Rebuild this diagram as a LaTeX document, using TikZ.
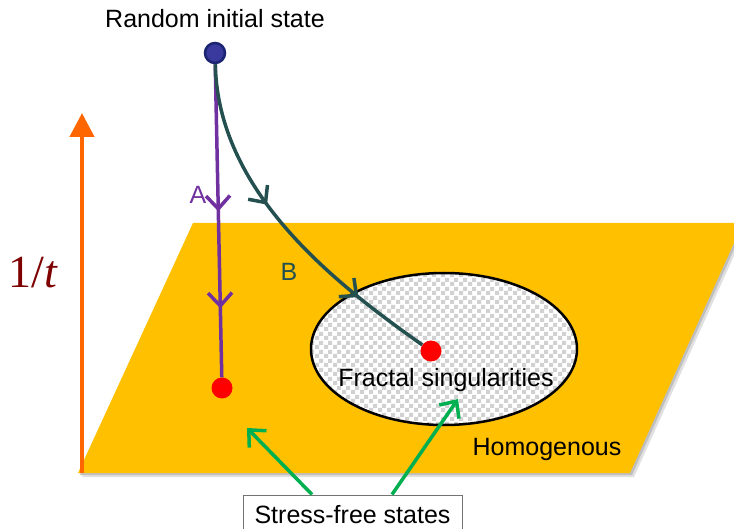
\documentclass[tikz,border=0pt]{standalone}
\usepackage{fontspec}
\setmainfont{Liberation Sans}
\newfontfamily\timesfont{Liberation Serif}
\usetikzlibrary{arrows.meta,decorations.markings,patterns}
\pgfdeclarepatternformonly{mychecker}{\pgfpointorigin}{\pgfqpoint{9pt}{9pt}}{\pgfqpoint{9pt}{9pt}}{%
  \pgfpathrectangle{\pgfpointorigin}{\pgfqpoint{4.5pt}{4.5pt}}%
  \pgfpathrectangle{\pgfqpoint{4.5pt}{4.5pt}}{\pgfqpoint{4.5pt}{4.5pt}}%
  \pgfusepath{fill}}
\definecolor{plane}{HTML}{FFC000}
\definecolor{axisorange}{HTML}{FF6600}
\definecolor{pathA}{HTML}{7030A0}
\definecolor{pathB}{HTML}{24504F}
\definecolor{arrowgreen}{HTML}{00B050}
\definecolor{darkred}{HTML}{7F0000}
\definecolor{startfill}{HTML}{3A3A9E}
\definecolor{startdraw}{HTML}{1A2470}
\tikzset{
  barbtip/.tip={Straight Barb[length=13pt,width=24pt,line width=3.5pt]},
  lbl/.style={font=\fontsize{25}{30}\selectfont, inner sep=0pt, anchor=base},
  dot/.style={circle, fill=red, inner sep=0pt, minimum size=21pt},
  flowA/.style={pathA, line width=3.5pt, postaction={decorate}},
  flowB/.style={pathB, line width=3.5pt, postaction={decorate}},
  greenarrow/.style={arrowgreen, line width=3.5pt, -barbtip},
}
\begin{document}
\begin{tikzpicture}[x=1pt,y=-1pt]
\useasboundingbox (0,0) rectangle (734,529);
% plane with soft shadow
\fill[black!12] (197,227) -- (747,227) -- (634,477) -- (82,477) -- cycle;
\fill[black!25] (195,225) -- (745,225) -- (632,475) -- (80,475) -- cycle;
\fill[plane] (193,223) -- (743,223) -- (630,473) -- (78,473) -- cycle;
% ellipse
\fill[white] (444,349) ellipse [x radius=133, y radius=76];
\fill[pattern=mychecker, pattern color=black!18] (444,349) ellipse [x radius=132, y radius=75];
\draw[black, line width=2.5pt] (444,349) ellipse [x radius=133, y radius=76];
% axis
\coordinate (axbot) at (82,473);
\coordinate (axtop) at (82,113);
\draw[axisorange, line width=4.5pt, -{Triangle[length=24pt,width=24pt]}] (axbot) -- (axtop);
\node[text=darkred, inner sep=0pt, anchor=base] (inv) at (33,288) {\timesfont\fontsize{46}{52}\selectfont 1/\textit{t}};
% labels
\node[lbl] (title) at (215,28) {Random initial state};
\node[lbl, text=pathA] (labA) at (198,204) {A};
\node[lbl, text=pathB] (labB) at (289,281) {B};
\node[lbl] (frac) at (446,387) {Fractal singularities};
\node[lbl] (homo) at (547,455) {Homogenous};
% nodes
\node[circle, fill=startfill, draw=startdraw, line width=2.5pt, inner sep=0pt, minimum size=20pt] (start) at (215,53) {};
\node[dot] (endA) at (222,388) {};
\node[dot] (endB) at (431,351) {};
% paths
\draw[flowA, decoration={markings,
    mark=at position 0.47 with {\arrow{barbtip}},
    mark=at position 0.78 with {\arrow{barbtip}}}]
  (start) -- (endA);
\draw[flowB, decoration={markings,
    mark=at position 0.42 with {\arrow{barbtip}},
    mark=at position 0.78 with {\arrow{barbtip}}}]
  (start) .. controls (218,190) and (330,280) .. (endB);
% stress-free box
\node[draw=black!55, line width=1pt, fill=white, minimum width=219pt, minimum height=40pt, inner sep=0pt, font=\fontsize{25}{30}\selectfont] (box) at (352.5,515) {Stress-free states};
\coordinate (g1) at (247,428);
\coordinate (g2) at (458,399);
\draw[greenarrow] ([xshift=-40.5pt]box.north) -- (g1);
\draw[greenarrow] ([xshift=39.5pt]box.north) -- (g2);
\end{tikzpicture}
\end{document}
